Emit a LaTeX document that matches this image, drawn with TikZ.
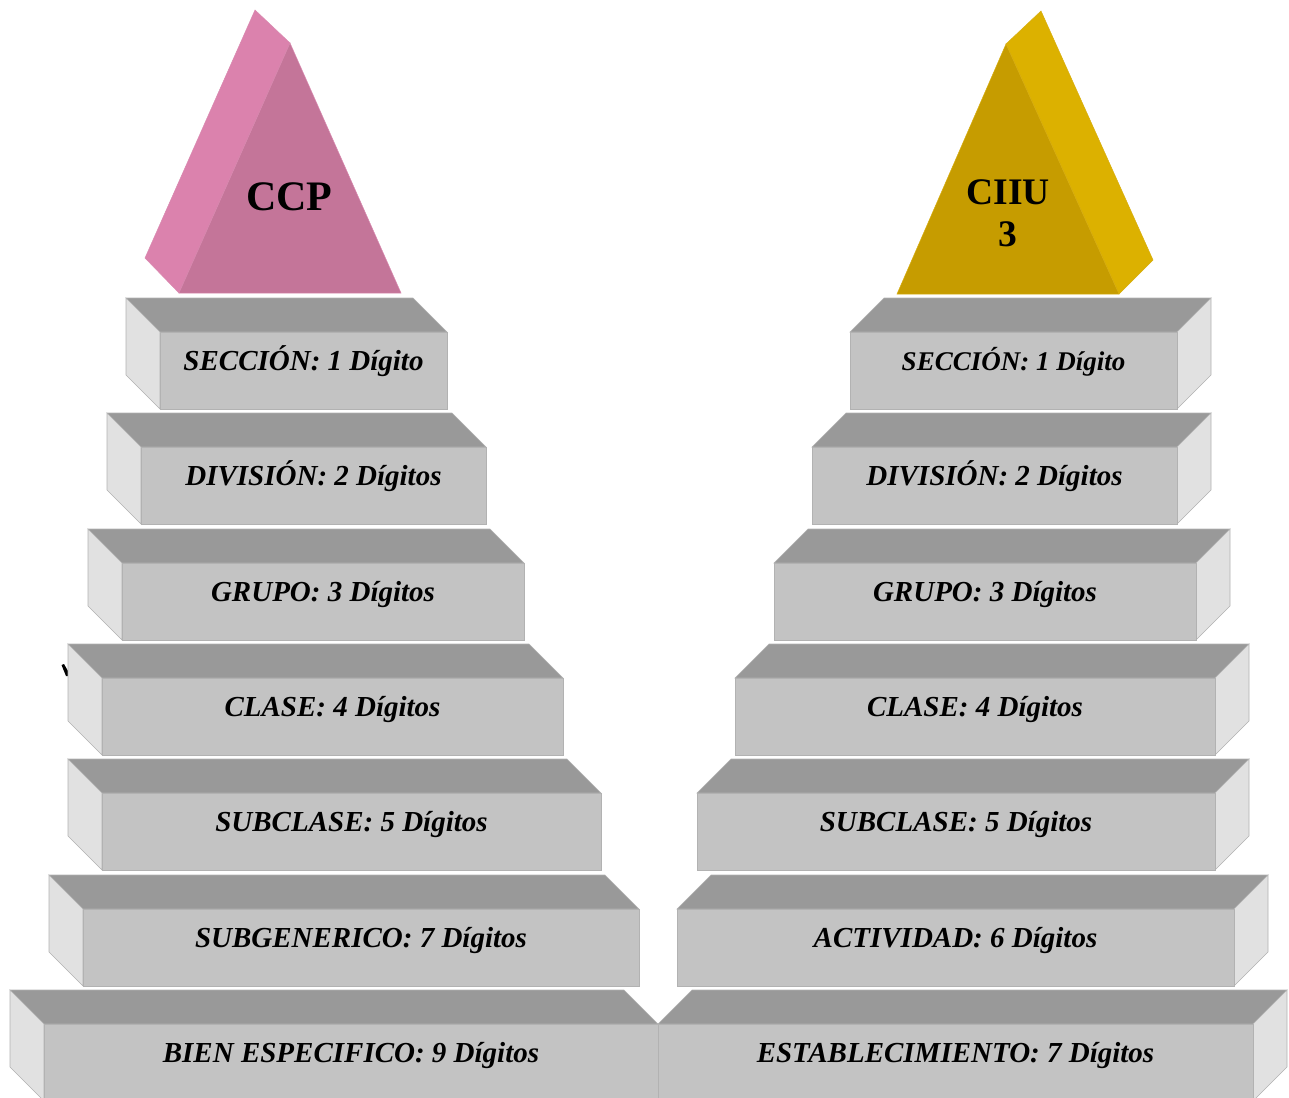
\documentclass[tikz,border=0pt]{standalone}
\usepackage{fontspec}
\setmainfont{Liberation Serif}
\definecolor{topg}{HTML}{999999}
\definecolor{frontg}{HTML}{C3C3C3}
\definecolor{sideg}{HTML}{E1E1E1}
\definecolor{edgeg}{HTML}{B2B2B2}
\definecolor{pinkfront}{HTML}{C47599}
\definecolor{pinkside}{HTML}{DB82AD}
\definecolor{pinkedge}{HTML}{D98AB0}
\definecolor{goldfront}{HTML}{C69C00}
\definecolor{goldside}{HTML}{DCB100}
\definecolor{goldedge}{HTML}{D8AE10}
\begin{document}
\begin{tikzpicture}[x=1pt,y=-1pt,
  lbl/.style={font=\fontsize{#1}{34}\selectfont\bfseries\itshape, anchor=base, inner sep=0pt},
  lbl/.default=29,
  face/.style={draw=edgeg, line width=0.6pt, line join=miter},
  ptitle/.style={font=\fontsize{#1}{44}\selectfont\bfseries, anchor=base, inner sep=0pt}]
\useasboundingbox (0,0) rectangle (1289,1097);
\clip (0,0) rectangle (1289,1097);

% stray glyph fragment
\fill (61.5,665) -- (64,664) -- (68,671) -- (68,676) -- (66,676) -- cycle;

% ---------- pyramids ----------
\filldraw[fill=pinkside, draw=pinkedge, line width=0.5pt] (255,10) -- (290,43) -- (179,293) -- (145,258) -- cycle;
\filldraw[fill=pinkfront, draw=pinkedge, line width=0.5pt] (290,43) -- (401,293) -- (179,293) -- cycle;
\node[ptitle=42] (ccp) at (289.5,210) {CCP};

\filldraw[fill=goldside, draw=goldedge, line width=0.5pt] (1041,11) -- (1153,260) -- (1119,294) -- (1006,44) -- cycle;
\filldraw[fill=goldfront, draw=goldedge, line width=0.5pt] (1006,44) -- (1119,294) -- (897,294) -- cycle;
\node[ptitle=37.5] (ciiu) at (1008,204) {CIIU};
\node[ptitle=37.5] (ciiu3) at (1008,246) {3};

% ---------- left stack (CCP) ----------
\foreach \i/\t/\fl/\fr/\fs/\txt in {
  0/298/160/447/29/{SECCIÓN: 1 Dígito},
  1/413/141/486/29/{DIVISIÓN: 2 Dígitos},
  2/529/122/524/29/{GRUPO: 3 Dígitos},
  3/644/102/563/29/{CLASE: 4 Dígitos},
  4/759/102/601/29/{SUBCLASE: 5 Dígitos},
  5/875/83/639/29/{SUBGENERICO: 7 Dígitos},
  6/990/44/658/29/{BIEN ESPECIFICO: 9 Dígitos}}{
  \filldraw[face, fill=topg] (\fl-34,\t) -- (\fr-34,\t) -- (\fr,\t+34) -- (\fl,\t+34) -- cycle;
  \filldraw[face, fill=sideg] (\fl-34,\t) -- (\fl,\t+34) -- (\fl,\t+111) -- (\fl-34,\t+77) -- cycle;
  \filldraw[face, fill=frontg] (\fl,\t+34) rectangle (\fr,\t+111);
  \node[lbl=\fs] (L\i) at ({(\fl+\fr)/2},\t+72.5) {\txt};
}

% ---------- right stack (CIIU 3) ----------
\foreach \i/\t/\fl/\fr/\fs/\txt in {
  0/298/850/1177/27/{SECCIÓN: 1 Dígito},
  1/413/812/1177/29/{DIVISIÓN: 2 Dígitos},
  2/529/774/1196/29/{GRUPO: 3 Dígitos},
  3/644/735/1215/29/{CLASE: 4 Dígitos},
  4/759/697/1215/29/{SUBCLASE: 5 Dígitos},
  5/875/677/1234/29/{ACTIVIDAD: 6 Dígitos},
  6/990/658/1253/29/{ESTABLECIMIENTO: 7 Dígitos}}{
  \filldraw[face, fill=topg] (\fl+34,\t) -- (\fr+34,\t) -- (\fr,\t+34) -- (\fl,\t+34) -- cycle;
  \filldraw[face, fill=sideg] (\fr,\t+34) -- (\fr+34,\t) -- (\fr+34,\t+77) -- (\fr,\t+111) -- cycle;
  \filldraw[face, fill=frontg] (\fl,\t+34) rectangle (\fr,\t+111);
  \node[lbl=\fs] (R\i) at ({(\fl+\fr)/2},\t+72) {\txt};
}
\end{tikzpicture}
\end{document}
